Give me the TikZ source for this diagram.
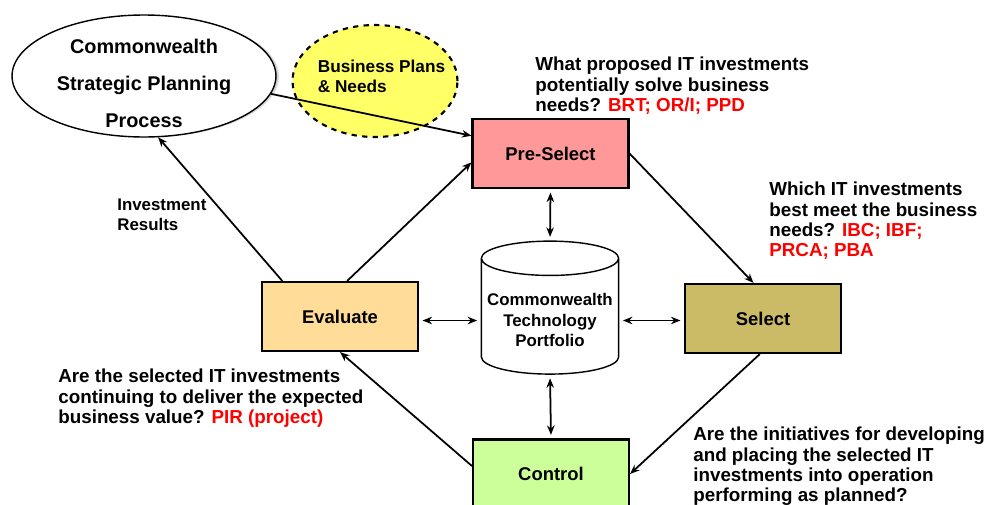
\documentclass[tikz,border=0pt]{standalone}
\usepackage{fontspec}
\setmainfont{Liberation Sans}
\usepackage{xcolor}
\usepackage{tikz}
\usetikzlibrary{shapes.geometric, arrows.meta, positioning, calc, shadows}
\definecolor{preselfill}{RGB}{255,153,153}
\definecolor{evalfill}{RGB}{255,221,153}
\definecolor{selfill}{RGB}{204,187,102}
\definecolor{ctrlfill}{RGB}{204,255,153}
\definecolor{planfill}{RGB}{255,255,102}
\definecolor{qred}{RGB}{255,0,0}
\tikzstyle{phase} = [rectangle, draw=black, line width=1.2pt, minimum width=3.12cm, minimum height=1.38cm, text centered, font=\bfseries\fontsize{10.5}{12}\selectfont]
\tikzstyle{question} = [anchor=north west, align=left, inner sep=0pt, font=\bfseries\fontsize{10.7}{11.4}\selectfont]
\tikzstyle{arrow} = [line width=1pt,->,>={Stealth[length=1.9mm,width=1.5mm]}]
\tikzstyle{twoway} = [line width=1pt,<->,>={Stealth[length=1.9mm,width=1.5mm]}, shorten >=2pt, shorten <=2pt]

\begin{document}
\begin{tikzpicture}[x=0.02cm, y=-0.02cm]
    \useasboundingbox (0,0) rectangle (986,504);

    % Planning inputs
    \node[ellipse, draw, thick, fill=white, minimum width=5.28cm, minimum height=2.44cm, drop shadow={shadow xshift=0.06cm, shadow yshift=-0.01cm, fill=gray!60},
          label={[yshift=-0.15cm, align=center, font=\bfseries\fontsize{11.3}{21}\selectfont]center:Commonwealth\\Strategic Planning\\Process}] (strat) at (144,76) {};
    \node[ellipse, draw, dashed, line width=1.2pt, fill=planfill, minimum width=3.3cm, minimum height=2.24cm,
          label={[xshift=0.13cm, yshift=0.1cm, align=left, font=\bfseries\fontsize{9.8}{11.4}\selectfont]center:Business Plans\\\& Needs}] (plans) at (375,81) {};

    % Phases
    \node[phase, fill=preselfill] (presel) at (550.5,153.5) {Pre-Select};
    \node[phase, fill=evalfill] (eval) at (340,316.5) {Evaluate};
    \node[phase, fill=selfill] (sel) at (763,318.5) {Select};
    \node[phase, fill=ctrlfill] (ctrl) at (551,474) {Control};

    % Portfolio
    \node[cylinder, shape border rotate=90, draw, thick, fill=white, aspect=0.25, minimum width=2.68cm, minimum height=2.66cm, align=center, font=\bfseries\fontsize{9.6}{11.7}\selectfont] (cyl) at (550,320) {Commonwealth\\Technology\\Portfolio};

    % Questions
    \node[question] (q1) at (535,57) {What proposed IT investments\\potentially solve business\\needs? \textcolor{qred}{BRT; OR/I; PPD}};
    \node[question] (q2) at (769,182) {Which IT investments\\best meet the business\\needs? \textcolor{qred}{IBC; IBF;}\\\textcolor{qred}{PRCA; PBA}};
    \node[question] (q3) at (58,369) {Are the selected IT investments\\continuing to deliver the expected\\business value? \textcolor{qred}{PIR (project)}};
    \node[question] (q4) at (693,427) {Are the initiatives for developing\\and placing the selected IT\\investments into operation\\performing as planned?};
    \node[question, font=\bfseries\fontsize{9.6}{11.4}\selectfont] (invres) at (117,199) {Investment\\Results};

    % Cycle
    \draw[arrow] (strat.-8) -- ($(presel.west)!0.5!(presel.north west)$);
    \draw[arrow] ($(eval.north west)!0.135!(eval.north east)$) -- (strat.-77);
    \draw[arrow] ($(eval.north west)!0.545!(eval.north east)$) -- ($(presel.west)!0.25!(presel.south west)$);
    \draw[arrow] (presel.east) -- ($(sel.north west)!0.44!(sel.north east)$);
    \draw[arrow] ($(sel.south west)!0.48!(sel.south east)$) -- (ctrl.east);
    \draw[arrow] ($(ctrl.west)+(0,-8)$) -- (eval.south);

    % Portfolio links
    \coordinate (evalport) at ($(eval.east)+(0,4)$);
    \coordinate (selport) at ($(sel.west)+(0,2)$);
    \draw[twoway] (presel.south) -- (cyl.north);
    \draw[twoway] (cyl.south) -- (ctrl.north);
    \draw[twoway] (evalport) -- (evalport -| cyl.west);
    \draw[twoway] (selport) -- (selport -| cyl.east);
\end{tikzpicture}
\end{document}
